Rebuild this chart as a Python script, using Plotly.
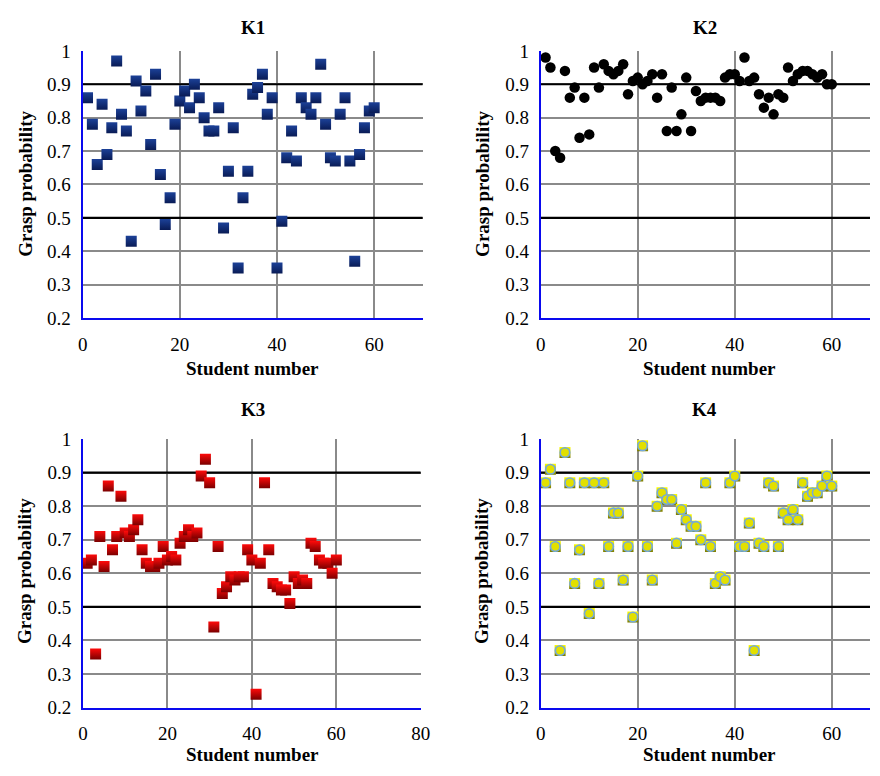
import plotly.graph_objects as go

students = list(range(1, 61))

k1 = [0.86, 0.78, 0.66, 0.84, 0.69, 0.77, 0.97, 0.81, 0.76, 0.43,
      0.91, 0.82, 0.88, 0.72, 0.93, 0.63, 0.48, 0.56, 0.78, 0.85,
      0.88, 0.83, 0.90, 0.86, 0.80, 0.76, 0.76, 0.83, 0.47, 0.64,
      0.77, 0.35, 0.56, 0.64, 0.87, 0.89, 0.93, 0.81, 0.86, 0.35,
      0.49, 0.68, 0.76, 0.67, 0.86, 0.83, 0.81, 0.86, 0.96, 0.78,
      0.68, 0.67, 0.81, 0.86, 0.67, 0.37, 0.69, 0.77, 0.82, 0.83]

k2 = [0.98, 0.95, 0.70, 0.68, 0.94, 0.86, 0.89, 0.74, 0.86, 0.75,
      0.95, 0.89, 0.96, 0.94, 0.93, 0.94, 0.96, 0.87, 0.91, 0.92,
      0.90, 0.91, 0.93, 0.86, 0.93, 0.76, 0.89, 0.76, 0.81, 0.92,
      0.76, 0.88, 0.85, 0.86, 0.86, 0.86, 0.85, 0.92, 0.93, 0.93,
      0.91, 0.98, 0.91, 0.92, 0.87, 0.83, 0.86, 0.81, 0.87, 0.86,
      0.95, 0.91, 0.93, 0.94, 0.94, 0.93, 0.92, 0.93, 0.90, 0.90]

k3 = [0.63, 0.64, 0.36, 0.71, 0.62, 0.86, 0.67, 0.71, 0.83, 0.72,
      0.71, 0.73, 0.76, 0.67, 0.63, 0.62, 0.62, 0.63, 0.68, 0.64,
      0.65, 0.64, 0.69, 0.71, 0.73, 0.71, 0.72, 0.89, 0.94, 0.87,
      0.44, 0.68, 0.54, 0.56, 0.59, 0.58, 0.59, 0.59, 0.67, 0.64,
      0.24, 0.63, 0.87, 0.67, 0.57, 0.56, 0.55, 0.55, 0.51, 0.59,
      0.57, 0.58, 0.57, 0.69, 0.68, 0.64, 0.63, 0.63, 0.60, 0.64]

k4 = [0.87, 0.91, 0.68, 0.37, 0.96, 0.87, 0.57, 0.67, 0.87, 0.48,
      0.87, 0.57, 0.87, 0.68, 0.78, 0.78, 0.58, 0.68, 0.47, 0.89,
      0.98, 0.68, 0.58, 0.80, 0.84, 0.82, 0.82, 0.69, 0.79, 0.76,
      0.74, 0.74, 0.70, 0.87, 0.68, 0.57, 0.59, 0.58, 0.87, 0.89,
      0.68, 0.68, 0.75, 0.37, 0.69, 0.68, 0.87, 0.86, 0.68, 0.78,
      0.76, 0.79, 0.76, 0.87, 0.83, 0.84, 0.84, 0.86, 0.89, 0.86]

panel_titles = ["K1", "K2", "K3", "K4"]
x_title = "Student number"
y_title = "Grasp probability"
y_ticks = [0.2, 0.3, 0.4, 0.5, 0.6, 0.7, 0.8, 0.9, 1.0]
y_ticktext = ["0.2", "0.3", "0.4", "0.5", "0.6", "0.7", "0.8", "0.9", "1"]
black_lines = [0.5, 0.9]

W, H = 880, 776
FONT = "Liberation Serif"

def px_x(p):
    return p / W

def px_y(p):
    return 1 - p / H

# panel geometry in screen pixels: (left, right, top, bottom, xmax)
panels = [
    (79.0, 425.0, 42.0, 316.7, 70.0),
    (545.0, 880.0, 42.0, 316.7, (880.0 - 545.0) / 4.935),
    (79.3, 423.0, 441.0, 717.0, 80.0),
    (545.0, 880.0, 441.0, 717.0, (880.0 - 545.0) / 4.935),
]

fig = go.Figure()

# black reference lines first (above grid, below markers)
for i, (l, r, t, b, xmax) in enumerate(panels):
    n = "" if i == 0 else str(i + 1)
    for yv in black_lines:
        fig.add_trace(go.Scatter(x=[0, xmax], y=[yv, yv], mode="lines",
                                 xaxis="x" + n, yaxis="y" + n,
                                 line=dict(color="black", width=2.2),
                                 hoverinfo="skip", showlegend=False, cliponaxis=False))

# K1
fig.add_trace(go.Scatter(x=students, y=k1, mode="markers", xaxis="x", yaxis="y",
                         marker=dict(symbol="square", size=11, color="#1c4198",
                                     gradient=dict(type="vertical", color="#091b55"),
                                     line=dict(width=0)), showlegend=False))
# K2
fig.add_trace(go.Scatter(x=students, y=k2, mode="markers", xaxis="x2", yaxis="y2",
                         marker=dict(symbol="circle", size=10.5, color="#000000",
                                     line=dict(width=0)), showlegend=False))
# K3
fig.add_trace(go.Scatter(x=students, y=k3, mode="markers", xaxis="x3", yaxis="y3",
                         marker=dict(symbol="square", size=11, color="#ff0a0a",
                                     gradient=dict(type="vertical", color="#7a0000"),
                                     line=dict(width=0)), showlegend=False))
# K4 (square backdrop + ringed circle)
fig.add_trace(go.Scatter(x=students, y=k4, mode="markers", xaxis="x4", yaxis="y4",
                         marker=dict(symbol="square", size=11, color="#ffff00",
                                     gradient=dict(type="vertical", color="#7a7a00"),
                                     line=dict(width=0)), showlegend=False))
fig.add_trace(go.Scatter(x=students, y=k4, mode="markers", xaxis="x4", yaxis="y4",
                         marker=dict(symbol="circle", size=9.5, color="#e2e000",
                                     line=dict(width=1.6, color="#74a9dc")),
                         showlegend=False))

layout = dict(width=W, height=H, margin=dict(l=0, r=0, t=0, b=0, pad=0),
              paper_bgcolor="white", plot_bgcolor="white", showlegend=False,
              font=dict(family=FONT, size=19, color="black"))

annotations = []
for i, (l, r, t, b, xmax) in enumerate(panels):
    n = "" if i == 0 else str(i + 1)
    xa = dict(domain=[px_x(l), min(1.0, px_x(r))], range=[0, xmax], anchor="y" + n,
              tickmode="linear", tick0=0, dtick=20, showgrid=True,
              gridcolor="#8a8a8a", gridwidth=2, zeroline=False,
              showline=True, linecolor="#0a0aee", linewidth=2, ticks="",
              ticklabelstandoff=8,
              tickfont=dict(family=FONT, size=19, color="black"))
    ya = dict(domain=[px_y(b), px_y(t)], range=[0.2, 1.0], anchor="x" + n,
              tickmode="array", tickvals=y_ticks, ticktext=y_ticktext,
              showgrid=True, gridcolor="#8a8a8a", gridwidth=2, zeroline=False,
              showline=True, linecolor="#0a0aee", linewidth=2, ticks="",
              ticklabelstandoff=6,
              tickfont=dict(family=FONT, size=19, color="black"))
    layout["xaxis" + n] = xa
    layout["yaxis" + n] = ya
    left_col = i % 2 == 0
    cx = 252 if left_col else 712
    ty = 18 if i < 2 else 411
    annotations.append(dict(text="<b>%s</b>" % panel_titles[i], x=px_x(cx), y=px_y(ty),
                            xref="paper", yref="paper", showarrow=False,
                            xanchor="center", yanchor="middle",
                            font=dict(family=FONT, size=19, color="black")))
    xcx = 252 if left_col else 717
    xty = 368 if i < 2 else 765
    annotations.append(dict(text="<b>%s</b>" % x_title, x=px_x(xcx), y=px_y(xty),
                            xref="paper", yref="paper", showarrow=False,
                            xanchor="center", yanchor="middle",
                            font=dict(family=FONT, size=19, color="black")))
    ycx = 20 if left_col else 485
    yty = 179 if i < 2 else 577
    annotations.append(dict(text="<b>%s</b>" % y_title, x=px_x(ycx), y=px_y(yty),
                            xref="paper", yref="paper", showarrow=False,
                            xanchor="center", yanchor="middle", textangle=-90,
                            font=dict(family=FONT, size=19, color="black")))

layout["annotations"] = annotations
fig.update_layout(**layout)

fig.write_html("out.html",
               config={"displayModeBar": False},
               post_script="document.body.style.margin='0px';"
                           "document.body.style.overflow='hidden';")
